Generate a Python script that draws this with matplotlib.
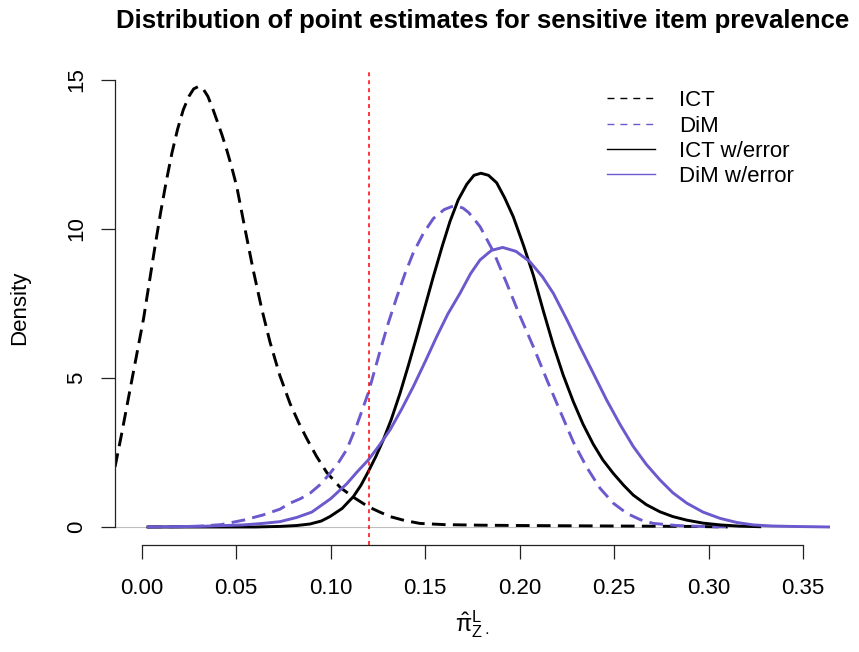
import matplotlib
matplotlib.use("Agg")
import matplotlib.pyplot as plt

plt.rcParams['font.family'] = ['Liberation Sans', 'DejaVu Sans']
plt.rcParams['mathtext.fontset'] = 'custom'
plt.rcParams['mathtext.rm'] = 'Liberation Sans'
plt.rcParams['mathtext.it'] = 'Liberation Sans'
plt.rcParams['mathtext.bf'] = 'Liberation Sans:bold'

# ---- data ----
ict_x = [-0.0141, -0.0110, -0.0080, -0.0050, -0.0020, 0.0010, 0.0040, 0.0070,
         0.0100, 0.0130, 0.0160, 0.0190, 0.0220, 0.0250, 0.0275, 0.0300,
         0.0325, 0.0350, 0.0375, 0.0397, 0.0425, 0.0450, 0.0475, 0.0503,
         0.0545, 0.0590, 0.0635, 0.0679, 0.0730, 0.0785, 0.0830, 0.0873,
         0.0925, 0.0979, 0.1050, 0.1120, 0.1199, 0.1260, 0.1314, 0.1390,
         0.1472, 0.1600, 0.1800, 0.2000, 0.2300, 0.2600, 0.2900, 0.3100]
ict_y = [2.02, 3.00, 4.00, 5.00, 6.00, 7.00, 8.20, 9.40,
         10.55, 11.60, 12.55, 13.35, 14.00, 14.45, 14.70, 14.78,
         14.70, 14.45, 14.05, 13.66, 13.15, 12.65, 12.10, 11.42,
         10.05, 8.62, 7.32, 6.20, 5.10, 4.14, 3.51, 2.97,
         2.37, 1.83, 1.33, 1.00, 0.68, 0.50, 0.35, 0.22,
         0.12, 0.08, 0.06, 0.05, 0.04, 0.03, 0.02, 0.00]

dim_x = [0.0033, 0.0200, 0.0310, 0.0420, 0.0538, 0.0640, 0.0732, 0.0785,
         0.0840, 0.0890, 0.0940, 0.0990, 0.1040, 0.1085, 0.1140, 0.1199,
         0.1230, 0.1261, 0.1305, 0.1349, 0.1393, 0.1437, 0.1490, 0.1543,
         0.1600, 0.1640, 0.1667, 0.1700, 0.1730, 0.1760, 0.1790, 0.1860,
         0.1931, 0.2000, 0.2072, 0.2143, 0.2213, 0.2284, 0.2355, 0.2425,
         0.2495, 0.2566, 0.2640, 0.2707, 0.2830, 0.2960, 0.3100]
dim_y = [0.00, 0.01, 0.03, 0.08, 0.23, 0.40, 0.60, 0.80,
         0.95, 1.13, 1.40, 1.75, 2.15, 2.60, 3.45, 4.50,
         5.20, 5.90, 6.85, 7.70, 8.50, 9.20, 9.85, 10.35,
         10.65, 10.75, 10.77, 10.70, 10.55, 10.32, 10.08, 9.25,
         8.18, 7.10, 6.05, 4.95, 3.90, 2.85, 2.00, 1.30,
         0.80, 0.46, 0.24, 0.12, 0.05, 0.02, 0.00]

icte_x = [0.0033, 0.0600, 0.0732, 0.0820, 0.0890, 0.0950, 0.0996, 0.1060,
          0.1120, 0.1160, 0.1199, 0.1240, 0.1278, 0.1320, 0.1367, 0.1410,
          0.1455, 0.1500, 0.1543, 0.1590, 0.1631, 0.1675, 0.1720, 0.1758,
          0.1795, 0.1835, 0.1878, 0.1920, 0.1966, 0.2020, 0.2072, 0.2125,
          0.2178, 0.2230, 0.2284, 0.2335, 0.2389, 0.2440, 0.2495, 0.2550,
          0.2601, 0.2670, 0.2742, 0.2810, 0.2884, 0.2970, 0.3060, 0.3160,
          0.3270]
icte_y = [0.00, 0.00, 0.02, 0.05, 0.10, 0.20, 0.35, 0.62,
          1.02, 1.40, 1.86, 2.38, 2.92, 3.60, 4.49, 5.40,
          6.39, 7.42, 8.40, 9.42, 10.25, 10.98, 11.50, 11.80,
          11.87, 11.80, 11.55, 11.05, 10.41, 9.45, 8.45, 7.25,
          6.10, 5.10, 4.20, 3.45, 2.78, 2.25, 1.80, 1.40,
          1.07, 0.75, 0.51, 0.35, 0.23, 0.13, 0.07, 0.03,
          0.01]

dime_x = [0.0035, 0.0300, 0.0538, 0.0640, 0.0732, 0.0820, 0.0900, 0.1000,
          0.1085, 0.1140, 0.1199, 0.1255, 0.1314, 0.1375, 0.1437, 0.1500,
          0.1561, 0.1620, 0.1684, 0.1740, 0.1790, 0.1850, 0.1910, 0.1980,
          0.2054, 0.2120, 0.2178, 0.2250, 0.2319, 0.2390, 0.2460, 0.2530,
          0.2601, 0.2670, 0.2742, 0.2810, 0.2884, 0.2970, 0.3060, 0.3150,
          0.3236, 0.3330, 0.3430, 0.3540, 0.3642]
dime_y = [0.00, 0.02, 0.07, 0.12, 0.18, 0.32, 0.50, 0.95,
          1.45, 1.85, 2.25, 2.72, 3.26, 3.95, 4.71, 5.55,
          6.39, 7.15, 7.84, 8.50, 8.96, 9.28, 9.38, 9.25,
          8.90, 8.40, 7.84, 6.95, 6.05, 5.15, 4.26, 3.45,
          2.70, 2.10, 1.58, 1.15, 0.80, 0.50, 0.29, 0.15,
          0.07, 0.035, 0.02, 0.01, 0.00]

threshold = 0.12

series_labels = ["ICT", "DiM", "ICT w/error", "DiM w/error"]
x_ticks = [0.00, 0.05, 0.10, 0.15, 0.20, 0.25, 0.30, 0.35]
x_tick_labels = ["0.00", "0.05", "0.10", "0.15", "0.20", "0.25", "0.30", "0.35"]
y_ticks = [0, 5, 10, 15]

# ---- figure ----
W, H = 859, 652
fig = plt.figure(figsize=(W / 100, H / 100), dpi=100)
L, R, T, B = 115, 830, 71, 545
ax = fig.add_axes([L / W, 1 - B / H, (R - L) / W, (B - T) / H])

purple = '#6A5ACD'
ax.axhline(0, color='#BEBEBE', lw=0.8, zorder=1)
ax.plot(ict_x, ict_y, color='black', lw=2.1, dashes=(4.7, 2.5), zorder=2)
ax.plot(dim_x, dim_y, color=purple, lw=2.1, dashes=(4.7, 2.5), zorder=3)
ax.plot(icte_x, icte_y, color='black', lw=2.1, zorder=4)
ax.plot(dime_x, dime_y, color=purple, lw=2.1, zorder=5)
ax.axvline(threshold, color='red', lw=1.1, dashes=(2.6, 2.6), zorder=6)

ax.set_xlim(-0.01413, 0.36418)
ax.set_ylim(-0.604, 15.30)

for s in ['top', 'right']:
    ax.spines[s].set_visible(False)
ax.spines['left'].set_bounds(0, 15)
ax.spines['bottom'].set_bounds(0, 0.35)
for s in ['left', 'bottom']:
    ax.spines[s].set_color('#222222')
    ax.spines[s].set_linewidth(0.9)

ax.set_xticks(x_ticks)
ax.set_xticklabels(x_tick_labels)
ax.set_yticks(y_ticks)
ax.tick_params(axis='both', direction='out', length=10, width=0.9,
               color='#222222', labelsize=16)
ax.tick_params(axis='x', pad=14)
ax.tick_params(axis='y', pad=10)
for lab in ax.get_yticklabels():
    lab.set_rotation(90)
    lab.set_va('center')

ax.set_xlabel(r'$\hat{\pi}^{\mathrm{L}}_{\mathrm{Z}\cdot}$', fontsize=17)
ax.xaxis.set_label_coords(0.5, (B - 624) / (B - T))
ax.xaxis.label.set_va('center')
ax.set_ylabel('Density', fontsize=16)
ax.yaxis.set_label_coords((20 - L) / (R - L), 0.5)
ax.yaxis.label.set_va('center')

fig.text(483 / W, 1 - 21 / H,
         'Distribution of point estimates for sensitive item prevalence',
         ha='center', va='center', fontsize=18.5, fontweight='bold')

# legend (no box, top right)
styles = [dict(color='black', dashes=(5.0, 4.3)),
          dict(color=purple, dashes=(5.0, 4.3)),
          dict(color='black'),
          dict(color=purple)]
rows = [98, 123.5, 149, 174.5]
for lab, st, yr in zip(series_labels, styles, rows):
    yf = 1 - yr / H
    fig.add_artist(plt.Line2D([607 / W, 655 / W], [yf, yf], lw=1.0, **st))
    fig.text(679 / W, yf, lab, ha='left', va='center_baseline', fontsize=16)

fig.savefig('out.png', dpi=100)
